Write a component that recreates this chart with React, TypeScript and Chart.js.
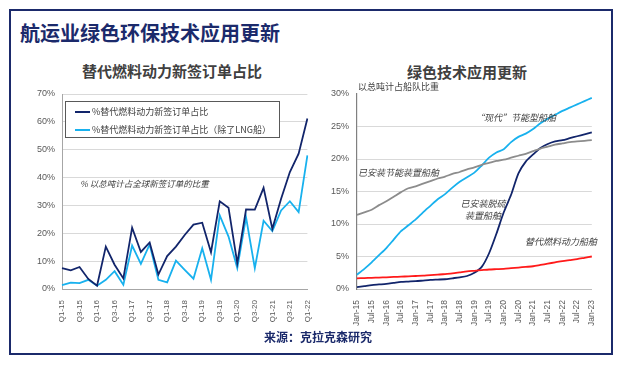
import React, { useEffect, useRef } from "react";
import { Chart, registerables } from "chart.js";

Chart.register(...registerables);

// ---------- Data ----------
const quarterLabels = [
  "Q1-15", "Q2-15", "Q3-15", "Q4-15",
  "Q1-16", "Q2-16", "Q3-16", "Q4-16",
  "Q1-17", "Q2-17", "Q3-17", "Q4-17",
  "Q1-18", "Q2-18", "Q3-18", "Q4-18",
  "Q1-19", "Q2-19", "Q3-19", "Q4-19",
  "Q1-20", "Q2-20", "Q3-20", "Q4-20",
  "Q1-21", "Q2-21", "Q3-21", "Q4-21",
  "Q1-22",
];
// % alternative-fuel share of new orders (GT)
const newOrdersAll = [
  7.5, 6.7, 7.9, 3.6, 1.2, 15.2, 8.7, 3.8, 22.0, 13.3, 16.7, 5.2, 11.8, 15.2, 19.4,
  23.1, 23.8, 13.2, 31.5, 29.2, 9.3, 28.6, 28.5, 36.3, 21.6, 32.4, 42.0, 48.6, 61.2,
];
// excluding LNG carriers
const newOrdersExLng = [
  1.4, 2.3, 2.1, 3.3, 1.2, 3.3, 6.4, 1.5, 15.6, 9.0, 16.0, 3.3, 2.4, 10.2, 6.9,
  3.7, 14.6, 3.3, 26.4, 18.8, 7.5, 25.7, 7.5, 24.5, 20.8, 28.2, 31.5, 27.6, 48.0,
];
const leftTickValues = [0, 10, 20, 30, 40, 50, 60, 70];

const monthLabels = [
  "Jan-15", "Apr-15", "Jul-15", "Oct-15",
  "Jan-16", "Apr-16", "Jul-16", "Oct-16",
  "Jan-17", "Apr-17", "Jul-17", "Oct-17",
  "Jan-18", "Apr-18", "Jul-18", "Oct-18",
  "Jan-19", "Apr-19", "Jul-19", "Oct-19",
  "Jan-20", "Apr-20", "Jul-20", "Oct-20",
  "Jan-21", "Apr-21", "Jul-21", "Oct-21",
  "Jan-22", "Apr-22", "Jul-22", "Oct-22",
  "Jan-23",
];
// "Modern" eco ships
const ecoShips = [
  2.2, 3.1, 4.1, 5.2, 6.3, 7.6, 8.9, 9.8, 10.7, 11.8, 12.8, 13.8, 14.6, 15.6, 16.5,
  17.2, 17.9, 19.0, 20.2, 21.0, 21.5, 22.6, 23.4, 23.9, 24.6, 25.5, 26.2, 26.8, 27.4,
  27.9, 28.4, 28.9, 29.4,
];
// Scrubber-fitted ships
const scrubberShips = [
  0.3, 0.45, 0.6, 0.7, 0.8, 0.95, 1.1, 1.15, 1.2, 1.3, 1.4, 1.45, 1.5, 1.65, 1.8,
  2.0, 2.5, 3.4, 5.5, 8.5, 11.8, 14.5, 17.8, 19.6, 20.7, 21.7, 22.3, 22.7, 22.9,
  23.2, 23.5, 23.8, 24.1,
];
// Energy-saving-device fitted ships
const energySavingShips = [
  11.4, 11.8, 12.2, 12.9, 13.5, 14.2, 14.9, 15.5, 15.8, 16.2, 16.6, 17.0, 17.3, 17.7,
  18.0, 18.4, 18.7, 19.1, 19.4, 19.7, 19.9, 20.2, 20.5, 20.8, 21.2, 21.6, 21.9, 22.2,
  22.4, 22.6, 22.7, 22.8, 22.9,
];
// Alternative-fuel capable ships
const altFuelShips = [
  1.65, 1.68, 1.72, 1.76, 1.8, 1.85, 1.9, 1.95, 2.0, 2.05, 2.15, 2.2, 2.3, 2.4, 2.55,
  2.7, 2.8, 2.9, 3.0, 3.05, 3.1, 3.2, 3.3, 3.4, 3.5, 3.7, 3.9, 4.1, 4.3, 4.45, 4.6,
  4.8, 5.0,
];
const rightTickValues = [0, 5, 10, 15, 20, 25, 30];

// ---------- Styles ----------
const NAVY = "#12256B";
const LIGHT = "#18B1EE";
const GRAY_LINE = "#8C8C8C";
const RED = "#FF1A1A";
const TITLE_NAVY = "#1B2A6B";
const FONT = "'Liberation Sans', Arial, 'Noto Sans CJK SC', sans-serif";
const CJK = "'Noto Sans CJK SC', 'Liberation Sans', sans-serif";
const TICK_COLOR = "#595959";

function LeftChart() {
  const ref = useRef<HTMLCanvasElement | null>(null);
  useEffect(() => {
    if (!ref.current) return;
    const chart = new Chart(ref.current, {
      type: "line",
      data: {
        labels: quarterLabels,
        datasets: [
          { data: newOrdersAll, borderColor: NAVY, borderWidth: 1.8, pointRadius: 0, tension: 0 },
          { data: newOrdersExLng, borderColor: LIGHT, borderWidth: 1.8, pointRadius: 0, tension: 0 },
        ],
      },
      options: {
        animation: false,
        responsive: false,
        maintainAspectRatio: false,
        layout: { padding: { left: 0, top: 14, right: 7, bottom: 0 } },
        plugins: { legend: { display: false }, tooltip: { enabled: false } },
        scales: {
          x: {
            grid: { display: false },
            border: { color: "#A6A6A6", width: 1 },
            ticks: {
              autoSkip: false,
              minRotation: 90,
              maxRotation: 90,
              padding: 3,
              color: TICK_COLOR,
              font: { size: 8, family: FONT },
              callback: (_v: any, i: number) => (i % 2 === 0 ? quarterLabels[i] : ""),
            },
            afterFit: (s: any) => { s.height = 41; },
          },
          y: {
            min: leftTickValues[0],
            max: leftTickValues[leftTickValues.length - 1],
            afterBuildTicks: (s: any) => { s.ticks = leftTickValues.map((v) => ({ value: v })); },
            grid: { color: "#D9D9D9", drawTicks: false },
            border: { color: "#A6A6A6", width: 1 },
            ticks: {
              padding: 7,
              color: TICK_COLOR,
              font: { size: 9, family: FONT },
              callback: (v: any) => v + "%",
            },
            afterFit: (s: any) => { s.width = 62; },
          },
        },
      },
    });
    return () => chart.destroy();
  }, []);
  return (
    <canvas
      ref={ref}
      width={320}
      height={250}
      style={{ position: "absolute", left: 0, top: 80, width: 320, height: 250 }}
    />
  );
}

function RightChart() {
  const ref = useRef<HTMLCanvasElement | null>(null);
  useEffect(() => {
    if (!ref.current) return;
    const mk = (data: number[], color: string) => ({
      data, borderColor: color, borderWidth: 1.8, pointRadius: 0, tension: 0.25,
    });
    const chart = new Chart(ref.current, {
      type: "line",
      data: {
        labels: monthLabels,
        datasets: [
          mk(energySavingShips, GRAY_LINE),
          mk(altFuelShips, RED),
          mk(scrubberShips, NAVY),
          mk(ecoShips, LIGHT),
        ],
      },
      options: {
        animation: false,
        responsive: false,
        maintainAspectRatio: false,
        layout: { padding: { left: 0, top: 14, right: 8, bottom: 0 } },
        plugins: { legend: { display: false }, tooltip: { enabled: false } },
        scales: {
          x: {
            grid: { display: false },
            border: { color: "#BFBFBF", width: 1 },
            ticks: {
              autoSkip: false,
              minRotation: 90,
              maxRotation: 90,
              padding: 3,
              color: TICK_COLOR,
              font: { size: 8.5, family: FONT },
              callback: (_v: any, i: number) => (i % 2 === 0 ? monthLabels[i] : ""),
            },
            afterFit: (s: any) => { s.height = 41; },
          },
          y: {
            min: rightTickValues[0],
            max: rightTickValues[rightTickValues.length - 1],
            afterBuildTicks: (s: any) => { s.ticks = rightTickValues.map((v) => ({ value: v })); },
            grid: {
              color: (c: any) => (c.tick && c.tick.value === 30 ? "rgba(0,0,0,0)" : "#D9D9D9"),
              drawTicks: false,
            },
            border: { color: "#808080", width: 1.2 },
            ticks: {
              padding: 8,
              color: TICK_COLOR,
              font: { size: 9, family: FONT },
              callback: (v: any) => v + "%",
            },
            afterFit: (s: any) => { s.width = 37; },
          },
        },
      },
    });
    return () => chart.destroy();
  }, []);
  return (
    <canvas
      ref={ref}
      width={285}
      height={250}
      style={{ position: "absolute", left: 320, top: 80, width: 285, height: 250 }}
    />
  );
}

const abs = (s: React.CSSProperties): React.CSSProperties => ({ position: "absolute", whiteSpace: "nowrap", ...s });

export default function App() {
  const note: React.CSSProperties = { fontFamily: CJK, fontSize: 9, lineHeight: "12px", color: "#404040" };
  return (
    <div style={{ position: "absolute", left: 0, top: 0, width: 624, height: 365, background: "#fff", overflow: "hidden" }}>
      <div style={abs({ left: 9, top: 9, width: 604, height: 346, border: `2px solid ${TITLE_NAVY}`, boxSizing: "border-box" })} />
      <div style={abs({ left: 20, top: 22, fontFamily: CJK, fontWeight: 700, fontSize: 20, lineHeight: "22px", color: TITLE_NAVY })}>
        航运业绿色环保技术应用更新
      </div>
      <div style={abs({ left: 72, width: 200, textAlign: "center", top: 61, fontFamily: CJK, fontWeight: 700, fontSize: 15, lineHeight: "20px", color: "#404040" })}>
        替代燃料动力新签订单占比
      </div>
      <div style={abs({ left: 367, width: 200, textAlign: "center", top: 62, fontFamily: CJK, fontWeight: 700, fontSize: 15, lineHeight: "20px", color: "#404040" })}>
        绿色技术应用更新
      </div>

      <LeftChart />
      <RightChart />

      {/* left legend */}
      <div style={abs({ left: 65, top: 101, width: 215, height: 37, border: "1px solid #595959", background: "#fff", boxSizing: "border-box" })}>
        <div style={abs({ left: 9, top: 9, width: 15, height: 2, background: NAVY })} />
        <div style={abs({ left: 26, top: 4, fontFamily: CJK, fontSize: 9, lineHeight: "12px", color: "#404040" })}>%替代燃料动力新签订单占比</div>
        <div style={abs({ left: 9, top: 27, width: 15, height: 2, background: LIGHT })} />
        <div style={abs({ left: 26, top: 22, fontFamily: CJK, fontSize: 9, lineHeight: "12px", color: "#404040" })}>%替代燃料动力新签订单占比（除了LNG船）</div>
      </div>
      <div style={abs({ ...note, left: 80, top: 177, fontSize: 8.5, fontStyle: "italic" })}>% 以总吨计占全球新签订单的比重</div>

      {/* right annotations */}
      <div style={abs({ ...note, left: 358, top: 81 })}>以总吨计占船队比重</div>
      <div style={abs({ ...note, left: 475, top: 112, fontStyle: "italic" })}>“现代”节能型船舶</div>
      <div style={abs({ ...note, left: 358, top: 167, fontStyle: "italic" })}>已安装节能装置船舶</div>
      <div style={abs({ ...note, left: 443, width: 80, top: 198, textAlign: "center", fontStyle: "italic" })}>
        已安装脱硫<br />装置船舶
      </div>
      <div style={abs({ ...note, right: 27, top: 236, fontStyle: "italic" })}>替代燃料动力船舶</div>

      <div style={abs({ left: 218, width: 200, textAlign: "center", top: 329, fontFamily: CJK, fontWeight: 700, fontSize: 12, lineHeight: "16px", color: TITLE_NAVY })}>
        来源：克拉克森研究
      </div>
    </div>
  );
}
